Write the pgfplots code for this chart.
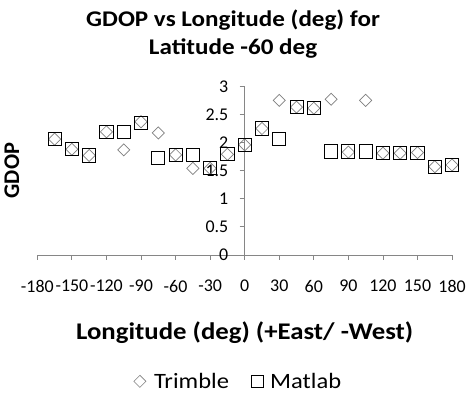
\documentclass[border=0pt]{standalone}
\usepackage{fontspec}
\setmainfont{Carlito}
\newfontfamily\wide{Carlito}[FakeStretch=1.12]
\usepackage{pgfplots}
\pgfplotsset{compat=1.18}

\definecolor{axgray}{HTML}{868686}
\definecolor{trimgray}{HTML}{7F7F7F}

\begin{document}
\begin{tikzpicture}
\begin{axis}[
  name=ax,
  scale only axis,
  width=416.5pt, height=169.3pt,
  xmin=-180, xmax=180, ymin=0, ymax=3,
  axis x line=bottom,
  axis y line=center,
  hide obscured x ticks=false,
  hide obscured y ticks=false,
  axis line style={draw=axgray, line width=0.8pt, -},
  xtick={-180,-150,...,180},
  ytick={0,0.5,...,3},
  tick align=outside,
  major tick length=5pt,
  tick style={draw=axgray, line width=0.8pt},
  ticklabel style={font=\fontsize{18}{21}\selectfont},
  /pgf/number format/assume math mode=true,
  xticklabel style={yshift=-17pt},
  yticklabel style={xshift=-8pt},
  title={GDOP vs Longitude (deg) for\\Latitude -60 deg},
  title style={font=\wide\bfseries\fontsize{22.5}{27.5}\selectfont, align=center,
    at={(axis description cs:0.472,1)}, anchor=south, yshift=19pt},
  xlabel={Longitude (deg) (+East/ -West)},
  xlabel style={font=\wide\bfseries\fontsize{24}{28}\selectfont, yshift=-22pt},
  every axis y label/.style={at={(axis description cs:-0.035,0.5)}, rotate=90, anchor=south,
    font=\bfseries\fontsize{22.5}{26}\selectfont},
  ylabel={GDOP},
  legend style={at={(axis description cs:0.485,-0.75)}, anchor=center, draw=none,
    font=\wide\fontsize{22}{26}\selectfont, legend columns=2,
    /tikz/every even column/.append style={column sep=20pt}},
  legend cell align=left,
  clip=false,
]
\addplot[only marks, mark=square, mark size=4.3pt,
  mark options={draw=trimgray, line width=0.7pt, rotate=45},
  legend image code/.code={\draw[mark size=4.3pt, mark options={draw=trimgray, line width=0.6pt, rotate=45}] plot[mark=square] coordinates {(0pt,0pt)}; \path (-6pt,0pt) (12pt,0pt);}]
coordinates {
(-165,2.06) (-150,1.88) (-135,1.77) (-120,2.19) (-105,1.87) (-90,2.37)
(-75,2.17) (-60,1.78) (-45,1.54) (-30,1.54) (-15,1.79) (0,1.96)
(15,2.25) (30,2.75) (45,2.63) (60,2.61) (75,2.77) (90,1.83)
(105,2.75) (120,1.81) (135,1.81) (150,1.82) (165,1.57) (180,1.60)
};
\addlegendentry{Trimble}
\addplot[only marks, mark=square, mark size=6.6pt,
  mark options={draw=black, line width=0.9pt},
  legend image code/.code={\draw[mark size=6pt, mark options={draw=black, line width=0.6pt}] plot[mark=square] coordinates {(0pt,0pt)}; \path (-6pt,0pt) (11pt,0pt);}]
coordinates {
(-165,2.06) (-150,1.88) (-135,1.77) (-120,2.19) (-105,2.19) (-90,2.35)
(-75,1.73) (-60,1.78) (-45,1.78) (-30,1.55) (-15,1.79) (0,1.96)
(15,2.25) (30,2.07) (45,2.63) (60,2.61) (75,1.84) (90,1.84)
(105,1.84) (120,1.81) (135,1.81) (150,1.82) (165,1.57) (180,1.60)
};
\addlegendentry{Matlab}
\end{axis}
\path[use as bounding box] (ax.south west) ++(-37.5pt,-146pt) rectangle ++(469pt,402pt);
\end{tikzpicture}
\end{document}
